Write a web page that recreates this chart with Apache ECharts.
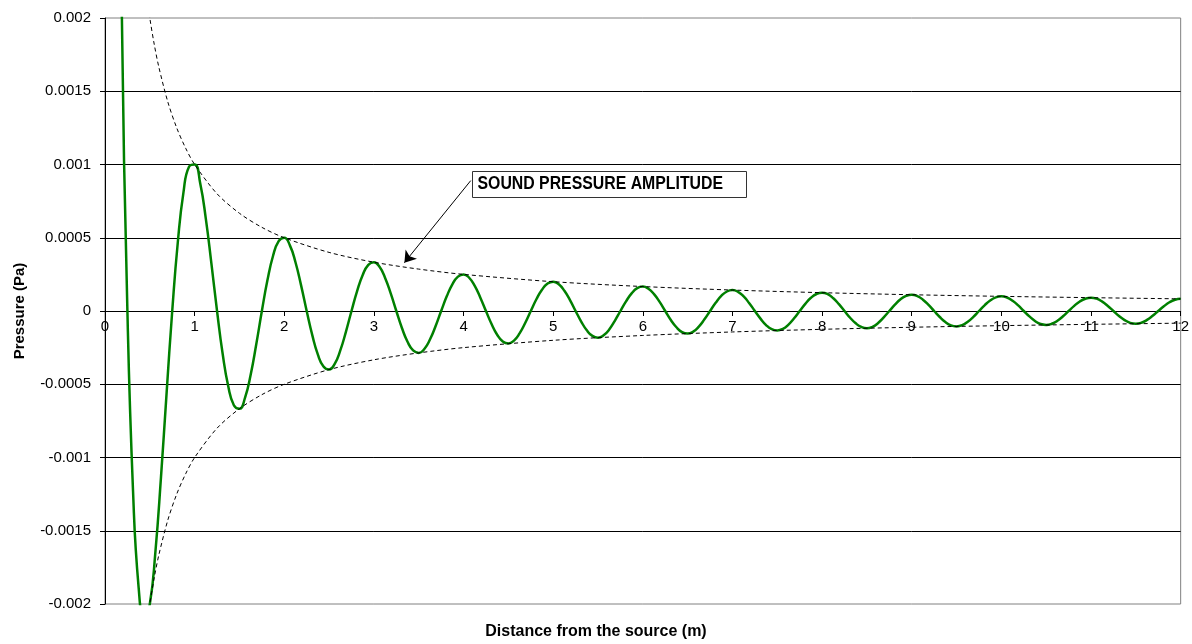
<!DOCTYPE html>
<html>
<head>
<meta charset="utf-8">
<script src="https://cdn.jsdelivr.net/npm/echarts@6/dist/echarts.min.js"></script>
<style>
html,body{margin:0;padding:0;background:#fff;}
#chart{width:1192px;height:644px;}
</style>
</head>
<body>
<div id="chart"></div>
<script>
// Distance from the source (m) for the pressure wave
const distance = [
  0.125,0.1875,0.25,0.3125,0.375,0.4375,0.5,0.5625,0.625,0.6875,0.75,0.8125,0.875,0.9375,1,
  1.0625,1.125,1.1875,1.25,1.3125,1.375,1.4375,1.5,1.5625,1.625,1.6875,1.75,1.8125,1.875,1.9375,2,
  2.0625,2.125,2.1875,2.25,2.3125,2.375,2.4375,2.5,2.5625,2.625,2.6875,2.75,2.8125,2.875,2.9375,3,
  3.0625,3.125,3.1875,3.25,3.3125,3.375,3.4375,3.5,3.5625,3.625,3.6875,3.75,3.8125,3.875,3.9375,4,
  4.0625,4.125,4.1875,4.25,4.3125,4.375,4.4375,4.5,4.5625,4.625,4.6875,4.75,4.8125,4.875,4.9375,5,
  5.0625,5.125,5.1875,5.25,5.3125,5.375,5.4375,5.5,5.5625,5.625,5.6875,5.75,5.8125,5.875,5.9375,6,
  6.0625,6.125,6.1875,6.25,6.3125,6.375,6.4375,6.5,6.5625,6.625,6.6875,6.75,6.8125,6.875,6.9375,7,
  7.0625,7.125,7.1875,7.25,7.3125,7.375,7.4375,7.5,7.5625,7.625,7.6875,7.75,7.8125,7.875,7.9375,8,
  8.0625,8.125,8.1875,8.25,8.3125,8.375,8.4375,8.5,8.5625,8.625,8.6875,8.75,8.8125,8.875,8.9375,9,
  9.0625,9.125,9.1875,9.25,9.3125,9.375,9.4375,9.5,9.5625,9.625,9.6875,9.75,9.8125,9.875,9.9375,10,
  10.0625,10.125,10.1875,10.25,10.3125,10.375,10.4375,10.5,10.5625,10.625,10.6875,10.75,10.8125,10.875,10.9375,11,
  11.0625,11.125,11.1875,11.25,11.3125,11.375,11.4375,11.5,11.5625,11.625,11.6875,11.75,11.8125,11.875,11.9375,12
];
// Pressure (Pa)
const pressure = [
  0.005657,0.002041,0,-0.001225,-0.001886,-0.002112,-0.002,-0.001642,-0.001131,-0.000557,0,0.000471,0.000808,0.000985,0.001,
  0.00087,0.000629,0.000322,0,-0.000292,-0.000514,-0.000643,-0.000667,-0.000591,-0.000435,-0.000227,0,0.000211,0.000377,0.000477,0.0005,
  0.000448,0.000333,0.000175,0,-0.000165,-0.000298,-0.000379,-0.0004,-0.000361,-0.000269,-0.000142,0,0.000136,0.000246,0.000315,0.000333,
  0.000302,0.000226,0.00012,0,-0.000116,-0.00021,-0.000269,-0.000286,-0.000259,-0.000195,-0.000104,0,0.0001,0.000182,0.000235,0.00025,
  0.000227,0.000171,0.000091,0,-0.000089,-0.000162,-0.000208,-0.000222,-0.000202,-0.000153,-0.000082,0,0.00008,0.000145,0.000187,0.0002,
  0.000182,0.000138,0.000074,0,-0.000072,-0.000132,-0.00017,-0.000182,-0.000166,-0.000126,-0.000067,0,0.000066,0.00012,0.000156,0.000167,
  0.000152,0.000115,0.000062,0,-0.000061,-0.000111,-0.000144,-0.000154,-0.000141,-0.000107,-0.000057,0,0.000056,0.000103,0.000133,0.000143,
  0.000131,0.000099,0.000053,0,-0.000052,-0.000096,-0.000124,-0.000133,-0.000122,-0.000093,-0.00005,0,0.000049,0.00009,0.000116,0.000125,
  0.000115,0.000087,0.000047,0,-0.000046,-0.000084,-0.000109,-0.000118,-0.000108,-0.000082,-0.000044,0,0.000043,0.00008,0.000103,0.000111,
  0.000102,0.000077,0.000042,0,-0.000041,-0.000075,-0.000098,-0.000105,-0.000097,-0.000073,-0.00004,0,0.000039,0.000072,0.000093,0.0001,
  0.000092,0.00007,0.000038,0,-0.000037,-0.000068,-0.000089,-0.000095,-0.000087,-0.000067,-0.000036,0,0.000035,0.000065,0.000084,0.000091,
  0.000084,0.000064,0.000034,0,-0.000034,-0.000062,-0.000081,-0.000087,-0.00008,-0.000061,-0.000033,0,0.000032,0.00006,0.000077,0.000083
];
// Sound pressure amplitude envelope (dashed lines)
const envDistance = [0.45,0.5,0.55,0.6,0.7,0.8,0.9,1,1.25,1.5,1.75,2,2.5,3,3.5,4,5,6,7,8,9,10,11,12];
const envUpper = [0.002222,0.002,0.001818,0.001667,0.001429,0.00125,0.001111,0.001,0.0008,0.000667,0.000571,0.0005,0.0004,0.000333,0.000286,0.00025,0.0002,0.000167,0.000143,0.000125,0.000111,0.0001,0.000091,0.000083];
const envLower = [-0.002222,-0.002,-0.001818,-0.001667,-0.001429,-0.00125,-0.001111,-0.001,-0.0008,-0.000667,-0.000571,-0.0005,-0.0004,-0.000333,-0.000286,-0.00025,-0.0002,-0.000167,-0.000143,-0.000125,-0.000111,-0.0001,-0.000091,-0.000083];
// Annotation
const annotationText = 'SOUND PRESSURE AMPLITUDE';
const arrowFrom = [4.08, 0.00089];
const arrowTo = [3.34, 0.00033];

const xMin = 0, xMax = 12, xStep = 1;
const yMin = -0.002, yMax = 0.002, yStep = 0.0005;

const zip = (a, b) => a.map((v, i) => [v, b[i]]);

const GRID_TOP = 18, GRID_BOTTOM = 40, H = 644;
const plotH = H - GRID_TOP - GRID_BOTTOM;
// move the x axis up to the y = 0 line
const zeroOffset = -plotH * (0 - yMin) / (yMax - yMin);

const chart = echarts.init(document.getElementById('chart'), null, {renderer: 'canvas'});
const FONT = 'Arial, "Liberation Sans", sans-serif';
chart.setOption({
  animation: false,
  backgroundColor: '#fff',
  title: {
    text: 'Distance from the source (m)',
    left: 'center',
    top: 624,
    padding: 0,
    textStyle: {fontFamily: FONT, fontWeight: 'bold', fontSize: 16, color: '#000'}
  },
  grid: {left: 105, right: 8, top: GRID_TOP, bottom: GRID_BOTTOM, show: true, borderColor: '#808080', borderWidth: 1, backgroundColor: 'transparent'},
  xAxis: {
    type: 'value', min: xMin, max: xMax, interval: xStep,
    offset: zeroOffset,
    axisLine: {onZero: false, lineStyle: {color: '#000', width: 1}},
    axisTick: {show: true, length: 5, lineStyle: {color: '#000'}},
    axisLabel: {margin: 8, color: '#000', fontSize: 15, fontFamily: FONT},
    splitLine: {show: false}
  },
  yAxis: {
    type: 'value', min: yMin, max: yMax, interval: yStep,
    name: 'Pressure (Pa)', nameLocation: 'middle', nameGap: 78,
    nameTextStyle: {fontFamily: FONT, fontWeight: 'bold', fontSize: 15, color: '#000'},
    axisLine: {show: true, onZero: false, lineStyle: {color: '#000', width: 1}},
    axisTick: {show: true, length: 5, lineStyle: {color: '#000'}},
    axisLabel: {margin: 14, color: '#000', fontSize: 15, fontFamily: FONT,
      formatter: v => String(+(+v).toFixed(4))},
    splitLine: {show: true, showMinLine: false, showMaxLine: false, lineStyle: {color: '#000', width: 1}}
  },
  series: [
    {
      type: 'line', data: zip(envDistance, envUpper), smooth: 0.3, showSymbol: false,
      lineStyle: {color: '#000', width: 1, type: [4, 3]}, clip: true, z: 3,
      markLine: {
        silent: true, symbol: ['none', 'arrow'], symbolSize: 11,
        lineStyle: {color: '#000', width: 1, type: 'solid'},
        itemStyle: {color: '#000'},
        label: {show: false},
        emphasis: {disabled: true},
        data: [[{coord: arrowFrom}, {coord: arrowTo}]]
      }
    },
    {
      type: 'line', data: zip(envDistance, envLower), smooth: 0.3, showSymbol: false,
      lineStyle: {color: '#000', width: 1, type: [4, 3]}, clip: true, z: 3
    },
    {
      type: 'line', data: zip(distance, pressure), smooth: true, showSymbol: false,
      lineStyle: {color: '#008000', width: 2.5}, clip: true, z: 2
    }
  ],
  graphic: [
    {
      type: 'group', left: 472, top: 171, z: 100,
      children: [
        {type: 'rect', shape: {x: 0, y: 0, width: 274, height: 26}, style: {fill: '#fff', stroke: '#333', lineWidth: 1}},
        {type: 'text', x: 5, y: 13, scaleX: 0.88, style: {text: annotationText, fill: '#000', font: 'bold 18px Arial, "Liberation Sans", sans-serif', verticalAlign: 'middle'}}
      ]
    }
  ]
});
</script>
</body>
</html>
